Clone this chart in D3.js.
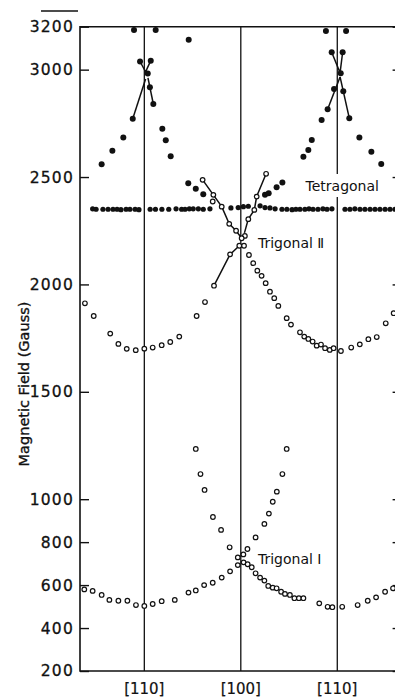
<!DOCTYPE html>
<html>
<head>
<meta charset="utf-8">
<script src="https://cdn.jsdelivr.net/npm/d3@7/dist/d3.min.js"></script>
<style>
body { margin: 0; background: #fff; }
text { font-family: "DejaVu Sans", sans-serif; fill: #111; }
</style>
</head>
<body>
<div id="chart"></div>
<script>
// angle in degrees measured from [100], field in gauss
var fieldTicks = [200, 400, 600, 800, 1000, 1500, 2000, 2500, 3000, 3200];
var dirAngles = [-45, 0, 45];
var dirLabels = ["[110]", "[100]", "[110]"];

// tetragonal, nearly constant line
var tetraFlat = [[-69.1,2352],[-67.5,2350],[-64.3,2350],[-61.9,2350],[-59.6,2350],[-57.7,2350],[-55.9,2348],
  [-53.5,2350],[-51.7,2350],[-49.3,2350],[-47.5,2348],[-42.3,2350],[-39.8,2350],[-36.8,2350],[-33.6,2350],
  [-30.2,2352],[-27.6,2350],[-26,2350],[-24,2352],[-22.2,2352],[-19.8,2352],[-17.5,2350],[-14.4,2352],
  [-4.6,2356],[-1.2,2358],[1.2,2362],[3.5,2364],[9,2366],[11.3,2358],[13.6,2356],[16,2352],
  [19.2,2350],[21.5,2350],[23.9,2348],[25.7,2350],[27.6,2350],[29.9,2350],[31.8,2352],[33.7,2350],
  [36,2350],[38.3,2352],[40.2,2350],[42.5,2352],[48.6,2350],[50.9,2350],[53.2,2352],[55.6,2350],
  [57.9,2350],[60.3,2350],[62.6,2350],[64.9,2350],[67.3,2350],[69.6,2350],[71.9,2350]];

// tetragonal, angle dependent branches
var tetraHigh = [[-64.9,2560],[-59.9,2622],[-54.8,2684],[-50.4,2771],[-49.8,3185],[-47.0,3038],[-43.4,2982],
  [-42.0,3042],[-39.7,3185],[-42.4,2918],[-40.8,2840],[-36.6,2725],[-35.0,2671],[-32.7,2597],[-24.3,3139],
  [-24.5,2471],[-21.0,2445],[-17.5,2420],
  [11.3,2417],[13.0,2425],[16.7,2453],[19.4,2474],[29.2,2595],[31.5,2626],[33.1,2673],[37.7,2766],
  [40.5,2816],[43.5,2910],[39.7,3180],[42.4,3081],[46.6,2983],[47.5,3081],[49.1,3180],[47.8,2900],
  [50.6,2774],[55.3,2684],[60.9,2618],[65.5,2561]];

var tetraLinks = [
  [[-47.0,3038],[-44.4,2990],[-42.0,3042]],
  [[-44.4,2956],[-50.4,2771]],
  [[-43.3,2962],[-40.8,2840]],
  [[42.4,3081],[46.3,2985],[47.5,3081]],
  [[46.3,2966],[40.5,2816]],
  [[46.3,2966],[50.6,2774]]
];

var trig2 = [[-72.7,1912],[-68.6,1853],[-60.9,1771],[-57.1,1723],[-53.2,1700],[-49.0,1694],[-45.0,1701],
  [-41.1,1706],[-36.9,1717],[-32.9,1732],[-28.7,1757],[-20.6,1853],[-16.7,1918],[-12.5,1994],[-5.0,2140],
  [-0.7,2180],[1.5,2180],[1.9,2226],[-2.2,2250],[0.4,2215],
  [-17.8,2487],[-12.8,2417],[-13.1,2386],[-8.9,2362],[-5.4,2282],
  [11.8,2515],[7.4,2409],[6.3,2347],[3.5,2304],
  [3.8,2137],[5.8,2099],[7.7,2064],[9.7,2040],[11.6,2006],[13.6,1966],[15.6,1936],[17.5,1900],
  [21.4,1843],[23.4,1813],[27.6,1777],[29.6,1757],[31.5,1746],[33.5,1734],[35.4,1715],[37.4,1720],
  [39.3,1703],[41.5,1695],[43.3,1703],[46.7,1690],[51.5,1706],[55.5,1721],[59.5,1745],[63.4,1755],
  [67.6,1819],[71.3,1866]];

var trig2Links = [
  [[-17.8,2487],[-12.8,2417],[-8.9,2362],[-5.4,2282],[-2.2,2250],[0.4,2215]],
  [[11.8,2515],[7.4,2409],[6.3,2347],[3.5,2304],[1.7,2240]],
  [[-0.7,2180],[-5.0,2140],[-12.5,1994]]
];

var trig1 = [[-73.0,580],[-69.1,573],[-64.9,554],[-61.3,531],[-57.1,527],[-52.9,527],[-48.9,507],[-45.0,503],
  [-41.1,512],[-36.9,525],[-30.8,531],[-24.4,565],[-21.0,575],[-17.1,600],[-13.1,611],[-8.9,635],[-5.0,664],
  [-1.4,693],[1.3,706],[3.2,697],[5.1,683],[6.9,655],[9.0,635],[11.0,621],[12.8,596],[14.9,588],[16.7,585],
  [18.8,569],[20.6,559],[22.9,554],[25.0,539],[27.1,539],[29.2,539],[36.6,515],[40.5,499],[42.7,497],
  [47.3,499],[54.5,507],[59.2,527],[63.1,543],[67.3,569],[71.0,585],
  [-21.0,1234],[-18.8,1117],[-16.9,1043],[-13.0,917],[-9.2,857],[-5.2,776],[-1.4,729],
  [1.2,743],[3.1,768],[6.9,822],[11.0,885],[13.1,933],[14.9,988],[16.8,1035],[19.4,1117],[21.4,1234]];

var notes = [
  {text: "Tetragonal", angle: 30.2, field: 2435},
  {text: "Trigonal \u2161", angle: 8.0, field: 2170},
  {text: "Trigonal \u2160", angle: 8.0, field: 698}
];

var width = 395, height = 698;

var svg = d3.select("#chart")
  .append("svg")
  .attr("width", width)
  .attr("height", height);

var x = d3.scaleLinear().domain([-75, 75]).range([80, 401.6]);
var y = d3.scaleLinear().domain([200, 3200]).range([671, 26.7]);

// stray rule above the top label
svg.append("line")
  .attr("x1", 41).attr("x2", 78).attr("y1", 11).attr("y2", 11)
  .attr("stroke", "#111").attr("stroke-width", 1.4);

// frame
svg.append("path")
  .attr("d", "M" + x(75) + "," + y(3200) + "H" + x(-75) + "V" + y(200) + "H" + x(75) + "V" + y(3200))
  .attr("fill", "none").attr("stroke", "#111").attr("stroke-width", 1.6);

// direction lines
svg.selectAll(".dir")
  .data(dirAngles)
  .enter().append("line")
  .attr("class", "dir")
  .attr("x1", function(d) { return x(d); })
  .attr("x2", function(d) { return x(d); })
  .attr("y1", y(3200)).attr("y2", y(200))
  .attr("stroke", "#111").attr("stroke-width", 1.3);

var left = svg.append("g")
  .attr("transform", "translate(" + x(-75) + ",0)")
  .call(d3.axisLeft(y).tickValues(fieldTicks).tickSize(-9).tickPadding(6).tickFormat(d3.format("d")));
left.select(".domain").remove();
left.selectAll("line").attr("stroke", "#111").attr("stroke-width", 1.4);
left.selectAll("text")
  .attr("font-family", "DejaVu Sans, sans-serif")
  .attr("font-size", 15.5)
  .attr("letter-spacing", 1.2)
  .attr("stroke", "#111")
  .attr("stroke-width", 0.3)
  .attr("fill", "#111");

var right = svg.append("g")
  .attr("transform", "translate(" + x(75) + ",0)")
  .call(d3.axisRight(y).tickValues(fieldTicks).tickSize(-9).tickFormat(""));
right.select(".domain").remove();
right.selectAll("line").attr("stroke", "#111").attr("stroke-width", 1.4);

svg.selectAll(".dirlab")
  .data(dirAngles)
  .enter().append("text")
  .attr("class", "dirlab")
  .attr("x", function(d) { return x(d); })
  .attr("y", 694)
  .attr("text-anchor", "middle")
  .attr("font-size", 15)
  .attr("stroke", "#111")
  .attr("stroke-width", 0.2)
  .text(function(d, i) { return dirLabels[i]; });

svg.append("text")
  .attr("transform", "translate(28.5,384) rotate(-90)")
  .attr("text-anchor", "middle")
  .attr("font-size", 14.5)
  .attr("stroke", "#111")
  .attr("stroke-width", 0.35)
  .text("Magnetic Field (Gauss)");

var line = d3.line()
  .x(function(d) { return x(d[0]); })
  .y(function(d) { return y(d[1]); });

svg.selectAll(".tlink")
  .data(tetraLinks.concat(trig2Links))
  .enter().append("path")
  .attr("class", "tlink")
  .attr("d", line)
  .attr("fill", "none")
  .attr("stroke", "#111")
  .attr("stroke-width", 1.5);

// label backgrounds and labels
var labels = svg.selectAll(".note")
  .data(notes)
  .enter().append("g")
  .attr("class", "note");
labels.append("rect")
  .attr("x", function(d) { return x(d.angle) - 2; })
  .attr("y", function(d) { return y(d.field) - 17; })
  .attr("width", function(d, i) { return i == 0 ? 78 : 0; })
  .attr("height", 23)
  .attr("fill", "#fff");
labels.append("text")
  .attr("x", function(d) { return x(d.angle); })
  .attr("y", function(d) { return y(d.field); })
  .attr("font-size", 14)
  .text(function(d) { return d.text; });

svg.selectAll(".flat")
  .data(tetraFlat)
  .enter().append("circle")
  .attr("class", "flat")
  .attr("cx", function(d) { return x(d[0]); })
  .attr("cy", function(d) { return y(d[1]); })
  .attr("r", 2.6)
  .attr("fill", "#111");

svg.selectAll(".high")
  .data(tetraHigh)
  .enter().append("circle")
  .attr("class", "high")
  .attr("cx", function(d) { return x(d[0]); })
  .attr("cy", function(d) { return y(d[1]); })
  .attr("r", 3)
  .attr("fill", "#111");

svg.selectAll(".open")
  .data(trig2.concat(trig1))
  .enter().append("circle")
  .attr("class", "open")
  .attr("cx", function(d) { return x(d[0]); })
  .attr("cy", function(d) { return y(d[1]); })
  .attr("r", 2.3)
  .attr("fill", "#fff")
  .attr("stroke", "#111")
  .attr("stroke-width", 1.2);
</script>
</body>
</html>
